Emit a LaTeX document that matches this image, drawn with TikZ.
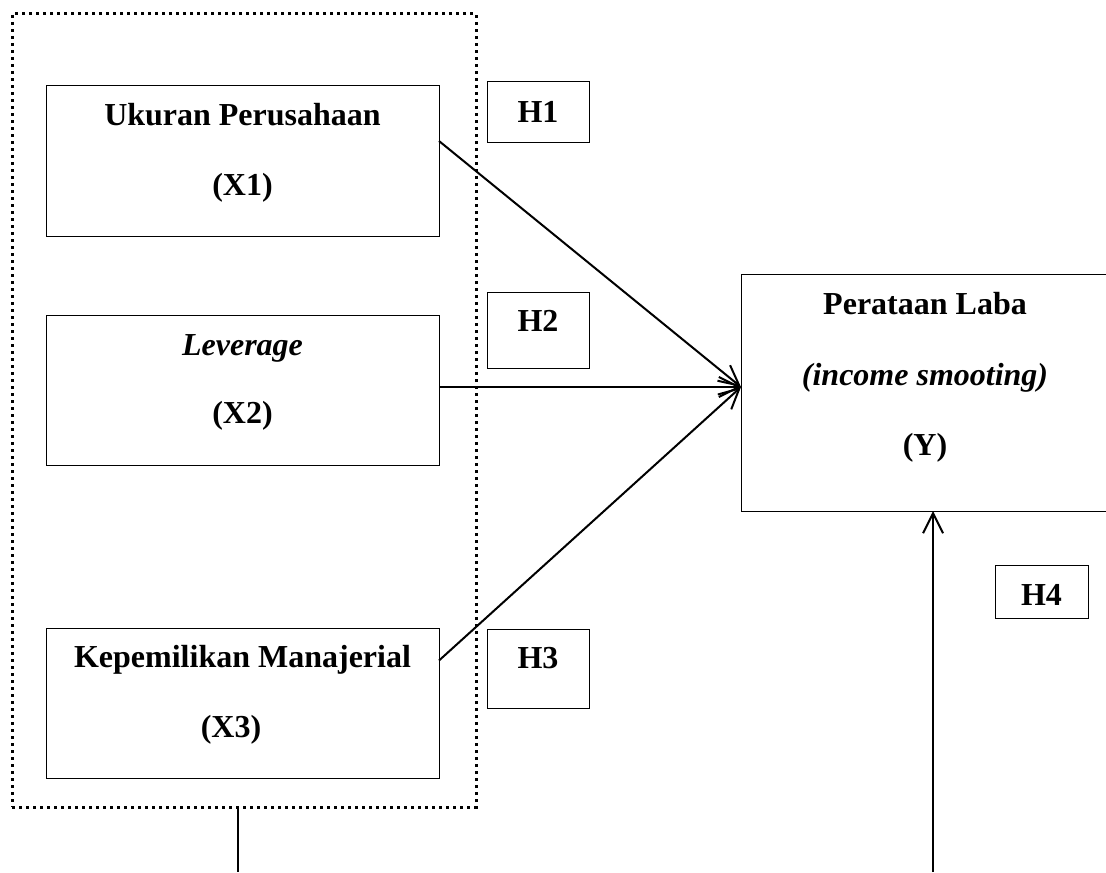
\documentclass[tikz,border=0pt]{standalone}
\usepackage{fontspec}
\setmainfont{Liberation Serif}
\usetikzlibrary{positioning,arrows.meta}

\newcommand{\lifted}[2]{\raisebox{#1}[\height][\depth]{\begin{tabular}{@{}c@{}}#2\end{tabular}}}

\begin{document}
\begin{tikzpicture}[
        x=0.5pt, y=-0.5pt,
        font=\fontsize{16}{19.2}\selectfont\bfseries,
        var/.style={
            rectangle,
            draw=black,
            line width=0.5pt,
            minimum width=196.5pt,
            minimum height=75pt,
            inner sep=0pt,
            outer sep=0pt
        },
        hyp/.style={var, minimum width=51pt, minimum height=30pt},
        group/.style={
            rectangle,
            draw=black,
            line width=1.5pt,
            dash pattern=on 1.5pt off 2pt,
            minimum width=232pt,
            minimum height=396.5pt,
            inner sep=0pt
        },
        arrow/.style={line width=1pt,-{Straight Barb[length=10pt,width=10pt]}},
        link/.style={line width=1pt}
    ]

    \useasboundingbox (0,0) rectangle (1106,872);
    \clip (0,0) rectangle (1106,872);

    % Variables
    \node (x1) [var] at (242.5,161) {\lifted{4pt}{Ukuran Perusahaan\\[16pt](X1)}};

    \node (x2) [var, below=39.5pt of x1] {\lifted{4pt}{\textit{Leverage}\\[15pt](X2)}};

    \node (x3) [var, below=81.5pt of x2] {\lifted{4pt}{Kepemilikan Manajerial\\[16pt](X3)\hspace*{11.5pt}}};

    \node (y) [var, minimum width=184pt, minimum height=118.5pt] at (925,392.5)
        {\lifted{7.5pt}{Perataan Laba\\[16pt]\textit{(income smooting)}\\[16pt](Y)}};

    \node (grp) [group] at (244,410.5) {};

    % Hypotheses
    \node (h1) [hyp] at (538,112) {\lifted{-1.5pt}{H1}};
    \node (h2) [hyp, minimum height=38pt] at (538,330) {\lifted{3pt}{H2}};
    \node (h3) [hyp, minimum height=39.5pt] at (538,668.5) {\lifted{3.75pt}{H3}};
    \node (h4) [hyp, minimum width=46.5pt, minimum height=26.5pt] at (1041.5,591.5) {\lifted{-3.1pt}{H4}};

    % Arrows
    \coordinate (yin) at ([yshift=2.75pt]y.west);
    \coordinate (b1) at (237.5,872);
    \coordinate (b2) at (933,872);

    \draw[arrow] ([yshift=10pt]x1.east) -- (yin);
    \draw[arrow] (x2.east |- yin) -- (yin);
    \draw[arrow] ([yshift=21.25pt]x3.east) -- (yin);
    \draw[link] (grp.south -| b1) -- (b1);
    \draw[arrow] (b2) -- (y.south -| b2);

\end{tikzpicture}
\end{document}
